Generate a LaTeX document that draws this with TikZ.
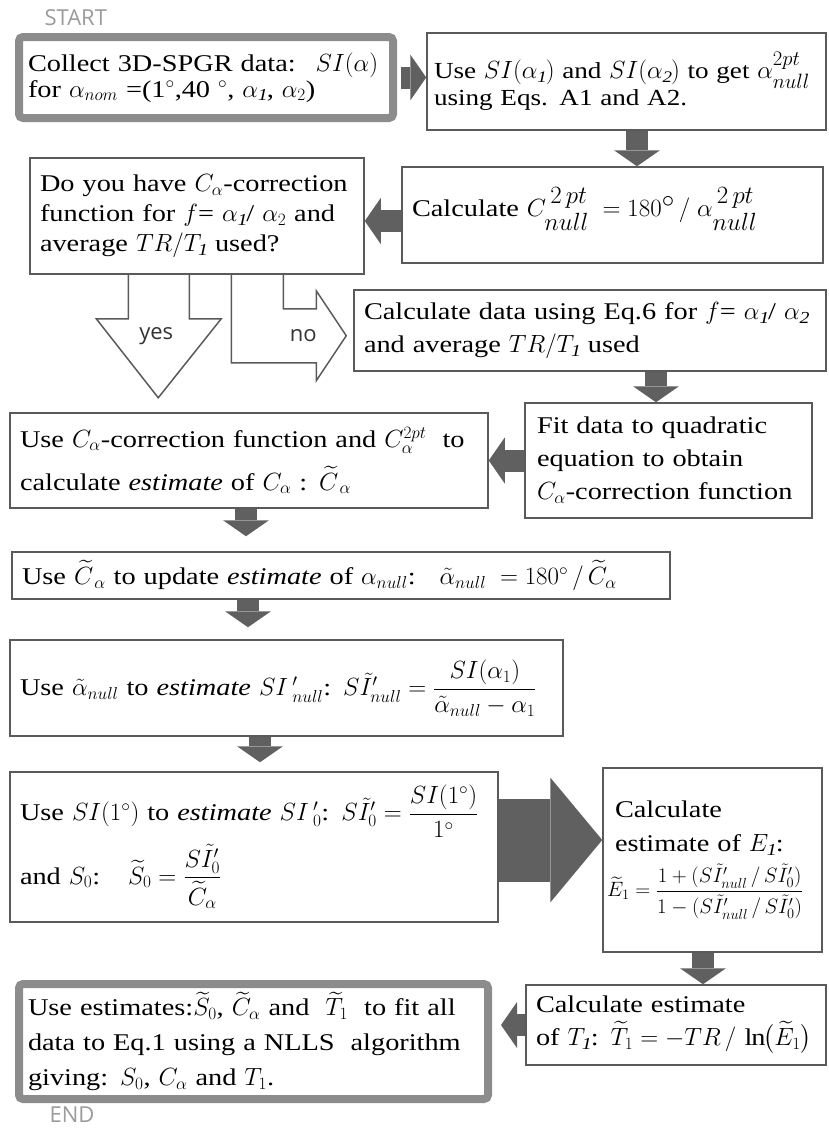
\documentclass[tikz,border=0pt]{standalone}
\usepackage{amsmath,amssymb}
\usepackage{fontspec}
\setmainfont{Liberation Serif}[FakeStretch=1.18]
\newfontfamily\flowsans{Open Sans}
\usetikzlibrary{arrows.meta,calc}
\definecolor{figFrame}{RGB}{140,140,140}
\definecolor{figLine}{RGB}{90,90,90}
\definecolor{figArrow}{RGB}{96,96,96}
\definecolor{figCap}{RGB}{155,155,155}

\begin{document}
\begin{tikzpicture}[x=1pt,y=-1pt,
  box/.style={draw=figLine,line width=1.5pt,fill=white,align=left,inner xsep=10pt,inner ysep=2pt,font=\fontsize{24}{33}\selectfont},
  endbox/.style={box,draw=figFrame,line width=8pt,rounded corners=4pt,inner xsep=9pt},
  blk/.style={draw=figArrow,line width=22pt,-{Triangle[length=16pt,width=46pt,line width=0pt]}},
  bigblk/.style={draw=figArrow,line width=83pt,-{Triangle[length=52pt,width=125pt,line width=0pt]}},
  hollow/.style={draw=figLine,line width=1.5pt,line join=miter},
  answer/.style={font=\flowsans\fontsize{22}{22}\selectfont,text=black!80},
  flowcap/.style={font=\flowsans\fontsize{22}{22}\selectfont,text=figCap,anchor=west}]
\useasboundingbox (0,0) rectangle (829,1130);

% captions
\node[flowcap] (start) at (41,18) {START};
\node[flowcap] (finish) at (46,1115) {END};

% top rows
\node[endbox,text width=356pt,minimum height=81pt,font=\fontsize{24}{26}\selectfont] (collect) at (206,77.5)
  {Collect 3D-SPGR data:~ $SI(\alpha)$\\for $\alpha_{nom}$ =(1$^{\circ}$,40 $^{\circ}$, $\alpha_{\mathit{1}}$, $\alpha_2$)};
\node[box,text width=385pt,inner xsep=7pt,minimum height=97pt,font=\fontsize{23}{26}\selectfont] (twopt) at (626.5,81.5)
  {Use $SI(\alpha_{\mathit{1}})$ and $SI(\alpha_{\mathit{2}})$ to get {\fontsize{29}{29}\selectfont$\alpha^{2pt}_{null}$}\\using Eqs. A1 and A2.};
\node[box,text width=401pt,minimum height=96pt,text depth=26pt] (cnull) at (612.5,215)
  {Calculate {\fontsize{34}{34}\selectfont$C^{\,2\,pt}_{null}\;=180^{\circ}\,/\;\alpha^{\,2\,pt}_{null}$}};
\node[box,text width=314pt,minimum height=116pt,font=\fontsize{24}{30}\selectfont] (have) at (197,216)
  {Do you have $C_{\alpha}$-correction\\function for $f$= $\alpha_{\mathit{1}}$/ $\alpha_2$ and\\average $TR/T_{\mathit{1}}$ used?};
\node[box,text width=452pt,minimum height=81pt] (gen) at (590,330.5)
  {Calculate data using Eq.6 for $f$= $\alpha_{\mathit{1}}$/ $\alpha_{\mathit{2}}$\\and average $TR/T_{\mathit{1}}$ used};
\node[box,text width=263pt,inner xsep=12pt,minimum height=115pt] (fit) at (668.5,460.5)
  {Fit data to quadratic\\equation to obtain\\$C_{\alpha}$-correction function};
\node[box,text width=458pt,minimum height=95pt] (corr) at (249,460.5)
  {Use $C_{\alpha}$-correction function and $C_{\alpha}^{2pt}$~ to\\[10pt]calculate \textit{estimate} of $C_{\alpha}$ : $\widetilde{C}_{\,\alpha}$};

% middle column
\node[box,text width=638pt,minimum height=47pt] (upd) at (341,575.5)
  {Use $\widetilde{C}_{\,\alpha}$ to update \textit{estimate} of $\alpha_{null}$:\quad$\tilde{\alpha}_{null}\;=180^{\circ}\,/\,\widetilde{C}_{\alpha}$};
\node[box,text width=533pt,minimum height=96pt] (sinull) at (286.5,688)
  {Use $\tilde{\alpha}_{null}$ to \textit{estimate} $SI\,'_{null}$: $S\tilde{I}'_{null} = \dfrac{SI(\alpha_1)}{\tilde{\alpha}_{null}-\alpha_1}$};
\node[box,text width=468pt,minimum height=150pt] (sizero) at (254,847)
  {Use $SI(1^{\circ})$ to \textit{estimate} $SI\,'_{0}$: $S\tilde{I}'_0 = \dfrac{SI(1^{\circ})}{1^{\circ}}$\\[6pt]and $S_0$:~~ $\widetilde{S}_0 = \dfrac{S\tilde{I}'_0}{\widetilde{C}_{\alpha}}$};
\node[box,text width=211pt,inner xsep=4pt,minimum height=184pt,font=\fontsize{24}{34}\selectfont] (eone) at (712.5,860)
  {\hspace*{8pt}Calculate\\\hspace*{8pt}estimate of $E_{\mathit{1}}$:\\[8pt]{\fontsize{20}{24}\selectfont$\widetilde{E}_1 = \dfrac{1+(S\tilde{I}'_{null}\,/\,S\tilde{I}'_0)}{1-(S\tilde{I}'_{null}\,/\,S\tilde{I}'_0)}$}};
\node[box,text width=280pt,minimum height=80pt] (tone) at (676,1025)
  {Calculate estimate\\of $T_{\mathit{1}}$: $\widetilde{T}_1 = -TR\,/\,\ln\bigl(\widetilde{E}_1\bigr)$};
\node[endbox,text width=451pt,minimum height=115pt,font=\fontsize{24}{35}\selectfont] (nlls) at (253.5,1041.5)
  {Use estimates:$\widetilde{S}_0$, $\widetilde{C}_{\alpha}$ and~ $\widetilde{T}_1$~ to fit all\\data to Eq.1 using a NLLS~ algorithm\\giving: $S_0$, $C_{\alpha}$ and $T_1$.};

% block arrows
\draw[blk,shorten <=4pt] (collect.east) -- (collect.east -| twopt.west);
\draw[blk] ($(twopt.south)+(10.5,0)$) -- ($(twopt.south |- cnull.north)+(10.5,0)$);
\draw[blk] ($(cnull.west)+(0,6)$) -- ($(cnull.west -| have.east)+(0,6)$);
\draw[blk] ($(gen.south)+(66,0)$) -- ($(gen.south |- fit.north)+(66,0)$);
\draw[blk] (fit.west) -- (fit.west -| corr.east);
\draw[blk,shorten >=15pt] ($(corr.south)+(-3,0)$) -- ($(corr.south |- upd.north)+(-3,0)$);
\draw[blk,shorten >=12pt] ($(upd.south)+(-93,0)$) -- ($(upd.south |- sinull.north)+(-93,0)$);
\draw[blk,shorten >=9pt] ($(sinull.south)+(-26.5,0)$) -- ($(sinull.south |- sizero.north)+(-26.5,0)$);
\draw[bigblk] ($(sizero.east)+(0,-7)$) -- ($(sizero.east -| eone.west)+(0,-7)$);
\draw[blk] ($(eone.south)+(-9.5,0)$) -- ($(eone.south |- tone.north)+(-9.5,0)$);
\draw[blk,shorten >=9pt] (tone.west) -- (tone.west -| nlls.east);

% yes / no branches
\begin{scope}[shift={(have.south west)}]
\draw[hollow] (99,0) -- (99,44) -- (67,44) -- (129,123) -- (192,44) -- (160,44) -- (160,0);
\draw[hollow] (202,0) -- (202,88) -- (287,88) -- (287,106) -- (317,61) -- (287,16) -- (287,34) -- (254,34) -- (254,0);
\node[answer] (yes) at (127,61) {yes};
\node[answer] (no) at (274,61) {no};
\end{scope}
\end{tikzpicture}
\end{document}
